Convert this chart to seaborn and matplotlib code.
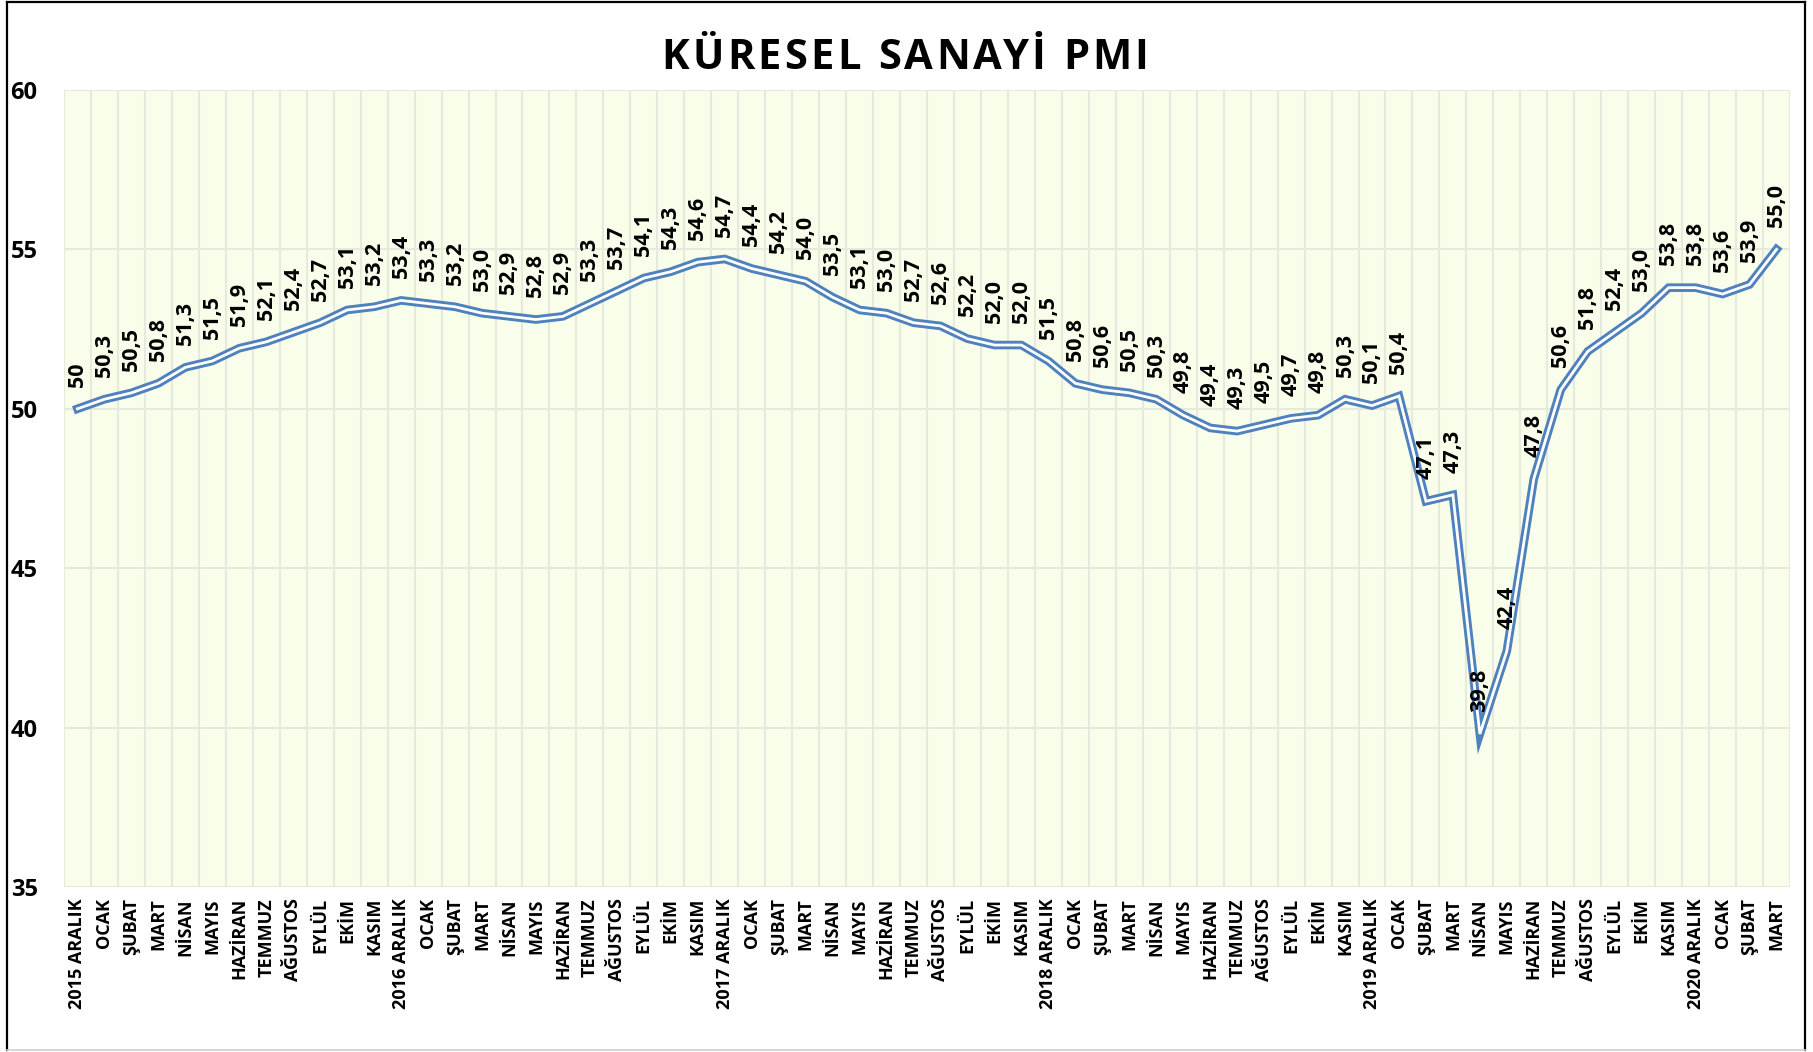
import numpy as np
import pandas as pd
import matplotlib
matplotlib.use("Agg")
import matplotlib.pyplot as plt
from matplotlib.lines import Line2D
from matplotlib.font_manager import FontProperties
import seaborn as sns

# chart data
months = [
    "2015 ARALIK", "OCAK", "ŞUBAT", "MART", "NİSAN", "MAYIS", "HAZİRAN", "TEMMUZ", "AĞUSTOS", "EYLÜL", "EKİM", "KASIM",
    "2016 ARALIK", "OCAK", "ŞUBAT", "MART", "NİSAN", "MAYIS", "HAZİRAN", "TEMMUZ", "AĞUSTOS", "EYLÜL", "EKİM", "KASIM",
    "2017 ARALIK", "OCAK", "ŞUBAT", "MART", "NİSAN", "MAYIS", "HAZİRAN", "TEMMUZ", "AĞUSTOS", "EYLÜL", "EKİM", "KASIM",
    "2018 ARALIK", "OCAK", "ŞUBAT", "MART", "NİSAN", "MAYIS", "HAZİRAN", "TEMMUZ", "AĞUSTOS", "EYLÜL", "EKİM", "KASIM",
    "2019 ARALIK", "OCAK", "ŞUBAT", "MART", "NİSAN", "MAYIS", "HAZİRAN", "TEMMUZ", "AĞUSTOS", "EYLÜL", "EKİM", "KASIM",
    "2020 ARALIK", "OCAK", "ŞUBAT", "MART",
]
pmi = [
    50.0, 50.3, 50.5, 50.8, 51.3, 51.5, 51.9, 52.1, 52.4, 52.7, 53.1, 53.2,
    53.4, 53.3, 53.2, 53.0, 52.9, 52.8, 52.9, 53.3, 53.7, 54.1, 54.3, 54.6,
    54.7, 54.4, 54.2, 54.0, 53.5, 53.1, 53.0, 52.7, 52.6, 52.2, 52.0, 52.0,
    51.5, 50.8, 50.6, 50.5, 50.3, 49.8, 49.4, 49.3, 49.5, 49.7, 49.8, 50.3,
    50.1, 50.4, 47.1, 47.3, 39.8, 42.4, 47.8, 50.6, 51.8, 52.4, 53.0, 53.8,
    53.8, 53.6, 53.9, 55.0,
]
y_ticks = [35, 40, 45, 50, 55, 60]
title = "KÜRESEL SANAYİ PMI"

df = pd.DataFrame({"idx": np.arange(len(months)), "pmi": pmi})

plt.rcParams["font.family"] = ["Open Sans", "DejaVu Sans"]

W, H = 1813, 1052
fig = plt.figure(figsize=(W / 100, H / 100), dpi=100)
ax = fig.add_axes([64 / W, 1 - 887 / H, (1790 - 64) / W, (887 - 90) / H])
ax.set_facecolor("#F9FEEA")

# double line (blue outline, white core)
sns.lineplot(data=df, x="idx", y="pmi", ax=ax, color="#4F81BD", linewidth=6.2,
             solid_joinstyle="miter", zorder=3)
sns.lineplot(data=df, x="idx", y="pmi", ax=ax, color="white", linewidth=2.0,
             solid_joinstyle="miter", zorder=4)

# data labels
for i, v in enumerate(pmi):
    txt = "50" if i == 0 else f"{v:.1f}".replace(".", ",")
    ax.annotate(txt, (i, v), xytext=(0, 16), textcoords="offset points",
                rotation=90, ha="center", va="bottom", fontsize=15.5,
                fontweight="bold", color="black", zorder=5)

ax.set_xlim(-0.5, len(months) - 0.5)
ax.set_ylim(35, 60)
ax.set_yticks(y_ticks)
ax.set_yticklabels([str(t) for t in y_ticks], fontsize=17, fontweight="bold")
ax.set_xticks(np.arange(len(months)))
ax.set_xticklabels(months, rotation=90, fontsize=13, fontweight="bold")
ax.tick_params(axis="both", length=0)
ax.tick_params(axis="y", pad=19)
ax.tick_params(axis="x", pad=8)

# grid: horizontal at ticks, vertical between categories
for t in y_ticks:
    ax.axhline(t, color="#E6E9DE", linewidth=1.5, zorder=1)
for b in np.arange(-0.5, len(months), 1.0):
    ax.axvline(b, color="#E6E9DE", linewidth=1.5, zorder=1)

for s in ax.spines.values():
    s.set_visible(False)
ax.set_xlabel("")
ax.set_ylabel("")

# title with wide letter spacing (drawn char by char)
fp = FontProperties(family=["Open Sans", "DejaVu Sans"], weight="bold", size=30)
rend = fig.canvas.get_renderer()
def txt_w(s):
    return rend.get_text_width_height_descent(s, fp, ismath=False)[0] if s else 0.0
full_w = txt_w(title)
target_w = 487
gap = (target_w - full_w) / (len(title) - 1)
x0 = 905 - target_w / 2
for k, ch in enumerate(title):
    if ch == " ":
        continue
    left = txt_w(title[:k + 1]) - txt_w(ch)
    fig.text((x0 + left + k * gap) / W, 1 - 69 / H, ch, ha="left", va="baseline",
             fontproperties=fp, color="black")

# outer frame
fig.add_artist(Line2D([7 / W, 7 / W], [2 / H, 1 - 2 / H], color="black", linewidth=1.6, transform=fig.transFigure))
fig.add_artist(Line2D([7 / W, 1805 / W], [1 - 2 / H, 1 - 2 / H], color="black", linewidth=1.6, transform=fig.transFigure))
fig.add_artist(Line2D([1805 / W, 1805 / W], [2 / H, 1 - 2 / H], color="black", linewidth=1.6, transform=fig.transFigure))
fig.add_artist(Line2D([7 / W, 1805 / W], [2 / H, 2 / H], color="#D0D0D0", linewidth=1.2, transform=fig.transFigure))

fig.savefig("out.png", dpi=100)
